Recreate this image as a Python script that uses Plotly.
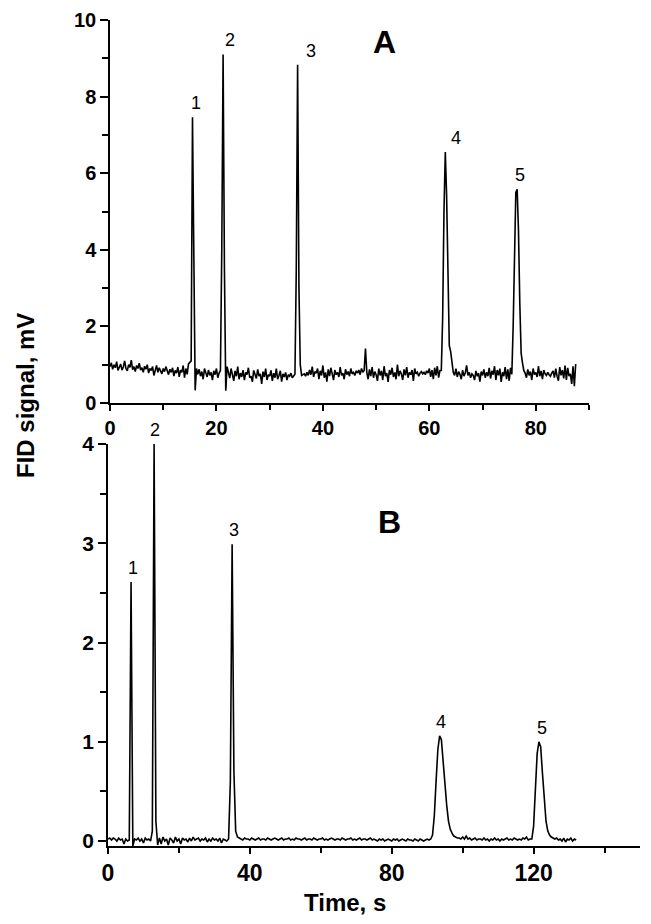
import plotly.graph_objects as go

# ---------------- Panel A (sampled every 0.25 s) ----------------
dt_a = 0.25
sig_a = [
    # 0 - 14.75 s baseline
    0.95,1.05,0.88,1.0,0.92,1.08,0.85,0.97,1.02,0.86,
    0.94,1.1,0.9,0.84,1.0,0.93,1.12,0.87,0.95,0.82,
    0.98,0.9,1.04,0.86,0.92,0.8,0.96,0.88,1.0,0.78,
    0.9,0.85,0.95,0.72,0.88,0.98,0.8,0.92,0.84,0.76,
    0.9,0.82,0.95,0.86,0.74,0.88,0.8,0.92,0.7,0.85,
    0.78,0.94,0.68,0.86,0.8,0.98,0.66,0.9,0.75,1.02,
    # peak 1
    1.05,1.1,7.46,2.5,0.33,0.9,0.75,
    0.88,0.7,0.82,0.62,0.9,0.76,0.68,0.86,0.72,0.8,0.6,0.84,0.74,0.9,0.66,0.78,
    # peak 2
    0.85,4.0,9.1,3.5,0.32,0.95,0.78,
    0.65,0.9,0.72,0.58,0.84,0.7,0.95,0.62,0.78,0.68,
    0.86,0.6,0.8,0.74,0.92,0.66,0.7,0.55,0.85,0.72,
    0.64,0.88,0.7,0.76,0.5,0.82,0.68,0.9,0.6,0.74,
    0.7,0.85,0.58,0.78,0.66,0.9,0.62,0.72,0.84,0.56,
    0.76,0.68,0.8,0.6,0.74,0.7,0.78,0.66,0.72,
    # peak 3
    0.75,3.5,8.83,3.0,1.0,0.72,
    0.74,0.76,0.7,0.8,0.72,0.86,0.74,0.95,0.68,0.82,
    0.78,0.9,0.62,0.84,0.72,0.98,0.66,0.8,0.56,0.88,
    0.7,0.92,0.76,0.6,0.86,0.74,0.8,0.68,0.94,0.72,
    0.78,0.62,0.88,0.74,0.82,0.7,0.9,0.76,0.8,0.72,
    0.84,0.78,0.86,0.74,0.9,0.8,0.85,
    # spike at 48 s
    1.42,
    0.8,0.62,0.88,0.7,0.94,0.66,0.82,0.74,0.58,0.9,
    0.72,0.84,0.6,0.96,0.7,0.78,0.55,0.86,0.74,0.92,
    0.68,0.8,0.62,1.0,0.7,0.84,0.76,0.6,0.88,0.72,
    0.94,0.66,0.8,0.74,0.86,0.58,0.9,0.76,0.8,0.7,
    0.78,0.82,0.76,0.8,0.74,0.84,0.78,0.9,0.68,0.86,
    0.62,0.92,0.72,0.96,0.66,0.85,
    # peak 4
    0.85,2.2,5.0,6.55,5.4,3.0,1.5,1.35,1.0,0.8,
    0.72,0.9,0.68,0.82,0.75,0.62,0.86,0.7,0.78,0.98,
    0.72,0.8,0.66,0.76,0.72,0.6,0.84,0.7,0.78,0.56,
    0.82,0.72,0.88,0.66,0.8,0.7,0.92,0.64,0.84,0.74,
    0.96,0.6,0.86,0.72,0.9,0.55,0.8,0.7,0.94,0.62,
    0.88,0.58,0.92,
    # peak 5
    0.75,2.0,4.3,5.5,5.58,4.5,2.6,1.3,1.05,0.85,
    0.78,0.66,0.88,0.72,0.82,0.6,0.9,0.74,0.8,0.68,
    0.96,0.7,0.84,0.62,0.86,0.76,0.72,0.8,0.74,0.7,
    0.78,0.84,0.66,0.9,0.7,0.58,0.94,0.72,0.86,0.64,
    0.98,0.6,0.92,0.7,0.76,0.5,0.96,0.44,1.02,
]
time_a = [round(i * dt_a, 3) for i in range(len(sig_a))]

# ---------------- Panel B (sampled every 0.5 s) ----------------
dt_b = 0.5
sig_b = [
    0.02,0.03,0.01,0.03,0.02,0.0,0.03,0.01,0.02,-0.03,0.02,0.0,
    # peak 1
    0.01,2.61,-0.05,
    0.02,0.01,0.03,0.0,0.02,-0.02,0.03,0.01,0.02,0.0,
    # peak 2
    0.1,4.0,0.2,-0.04,
    0.03,-0.03,0.04,0.0,0.02,-0.04,0.03,0.01,-0.02,0.04,
    0.0,0.02,-0.03,0.03,0.01,0.02,-0.01,0.03,0.0,0.04,
    0.01,0.02,0.03,0.0,0.02,0.01,0.03,-0.01,0.02,0.0,
    0.03,0.01,0.02,0.0,0.03,-0.02,0.02,0.01,0.0,
    # peak 3
    0.02,0.6,2.99,0.7,0.1,0.04,
    0.03,0.02,0.01,0.03,0.02,0.02,0.01,0.03,0.02,0.01,
    0.02,0.03,0.01,0.02,0.02,0.01,0.03,0.02,0.01,0.02,
    0.03,0.02,0.01,0.02,0.03,0.01,0.02,0.02,0.03,0.01,
    0.02,0.01,0.03,0.02,0.02,0.01,0.02,0.03,0.01,0.02,
    0.02,0.01,0.03,0.02,0.01,0.02,0.02,0.03,0.01,0.02,
    0.01,0.02,0.03,0.02,0.01,0.02,0.02,0.01,0.03,0.02,
    0.01,0.02,0.02,0.03,0.01,0.02,0.01,0.02,0.03,0.01,
    0.02,0.02,0.01,0.02,0.03,0.01,0.02,0.01,0.0,0.02,
    0.01,0.02,0.0,0.01,0.02,0.01,0.0,0.02,0.01,0.02,
    0.0,0.01,0.02,0.01,0.0,0.02,0.01,0.01,0.0,0.02,
    0.01,0.0,0.02,0.01,0.0,0.01,0.02,0.01,0.02,
    # peak 4
    0.06,0.25,0.6,0.92,1.06,1.02,0.8,0.55,0.36,0.2,0.12,0.08,0.05,0.04,0.03,
    0.03,0.02,0.04,0.02,0.05,0.02,0.03,0.01,0.02,0.03,
    0.01,0.02,0.02,0.01,0.03,0.01,0.02,0.0,0.02,0.01,
    0.03,0.01,0.02,0.0,0.02,0.01,0.02,0.03,0.01,0.02,
    0.01,0.03,0.02,0.01,0.02,0.01,0.03,0.02,0.04,0.01,
    0.02,0.02,
    # peak 5
    0.15,0.5,0.88,1.0,0.95,0.68,0.38,0.2,0.1,0.06,0.04,0.03,
    0.02,0.03,0.01,0.02,0.0,0.03,-0.01,0.02,0.01,0.03,0.0,0.02,0.01,
]
time_b = [round(i * dt_b, 3) for i in range(len(sig_b))]

peak_labels = ["1", "2", "3", "4", "5"]
peak_times_a = [15.5, 21.25, 35.25, 63.0, 76.5]
peak_times_b = [6.5, 13.0, 35.0, 93.5, 121.5]

# page is 651x924; the browser body has an 8 px margin, so the figure is
# sized to fill the rest of the window and page pixels are mapped into it
OFF = 8
W, H = 651 - OFF, 924 - OFF
def px(x): return (x - OFF) / W
def py(y): return 1 - (y - OFF) / H

fig = go.Figure()
fig.add_trace(go.Scatter(x=time_a, y=sig_a, mode="lines",
                         line=dict(color="black", width=1.6),
                         xaxis="x", yaxis="y", showlegend=False))
fig.add_trace(go.Scatter(x=time_b, y=sig_b, mode="lines",
                         line=dict(color="black", width=1.6),
                         xaxis="x2", yaxis="y2", showlegend=False))

FONT = "Liberation Sans, Arial, sans-serif"
axis_common = dict(showline=True, linecolor="black", linewidth=1.5,
                   ticks="outside", tickcolor="black", tickwidth=1.5,
                   showgrid=False, zeroline=False, mirror=False,
                   automargin=False, ticklabeloverflow="allow")

fig.update_layout(
    width=W, height=H,
    margin=dict(l=0, r=0, t=0, b=0, pad=0),
    paper_bgcolor="white", plot_bgcolor="white",
    font=dict(family=FONT, color="black"),
    xaxis=dict(domain=[px(110), px(589)], range=[0, 90], anchor="y",
               tickvals=[0, 20, 40, 60, 80], ticklen=6,
               minor=dict(tickvals=[10, 30, 50, 70, 90], ticks="outside",
                          ticklen=5, tickcolor="black", tickwidth=1.5),
               tickfont=dict(size=20, weight="bold"), **axis_common),
    yaxis=dict(domain=[py(403), py(20)], range=[0, 10], anchor="x",
               tickvals=[0, 2, 4, 6, 8, 10], ticklen=8,
               minor=dict(tickvals=[1, 3, 5, 7, 9], ticks="outside",
                          ticklen=6, tickcolor="black", tickwidth=1.5),
               tickfont=dict(size=20, weight="bold"), **axis_common),
    xaxis2=dict(domain=[px(108), px(640)], range=[0, 150], anchor="y2",
                tickvals=[0, 40, 80, 120], ticklen=6,
                minor=dict(tickvals=[20, 60, 100, 140], ticks="outside",
                           ticklen=5, tickcolor="black", tickwidth=1.5),
                tickfont=dict(size=23, weight="bold"), **axis_common),
    yaxis2=dict(domain=[py(846), py(444)], range=[-0.05, 4], anchor="x2",
                tickvals=[0, 1, 2, 3, 4], ticklen=8,
                minor=dict(tickvals=[0.5, 1.5, 2.5, 3.5], ticks="outside",
                           ticklen=6, tickcolor="black", tickwidth=1.5),
                tickfont=dict(size=21, weight="bold"), **axis_common),
)

ann = []
# axis titles
ann.append(dict(text="FID signal, mV", x=px(25), y=py(396), xref="paper", yref="paper",
                showarrow=False, textangle=-90, font=dict(size=24, weight="bold"),
                xanchor="center", yanchor="middle"))
ann.append(dict(text="Time, s", x=px(345), y=py(902), xref="paper", yref="paper",
                showarrow=False, font=dict(size=24, weight="bold"),
                xanchor="center", yanchor="middle"))
# panel letters
ann.append(dict(text="A", x=px(384), y=py(42), xref="paper", yref="paper",
                showarrow=False, font=dict(size=32, weight="bold"),
                xanchor="center", yanchor="middle"))
ann.append(dict(text="B", x=px(389), y=py(522), xref="paper", yref="paper",
                showarrow=False, font=dict(size=32, weight="bold"),
                xanchor="center", yanchor="middle"))

def peak_height(times, sig, t0):
    best = None
    for t, v in zip(times, sig):
        if abs(t - t0) <= 1.0 and (best is None or v > best):
            best = v
    return best

xshift_a = [4, 7, 13, 11, 3]
for lab, t0, xs in zip(peak_labels, peak_times_a, xshift_a):
    ann.append(dict(text=lab, x=t0, y=peak_height(time_a, sig_a, t0), xref="x", yref="y",
                    showarrow=False, font=dict(size=18), xanchor="center",
                    yanchor="bottom", xshift=xs, yshift=2))
xshift_b = [2, 1, 2, 1, 3]
for lab, t0, xs in zip(peak_labels, peak_times_b, xshift_b):
    ann.append(dict(text=lab, x=t0, y=peak_height(time_b, sig_b, t0), xref="x2", yref="y2",
                    showarrow=False, font=dict(size=18), xanchor="center",
                    yanchor="bottom", xshift=xs, yshift=2))
fig.update_layout(annotations=ann)

fig.write_html("out.html")
